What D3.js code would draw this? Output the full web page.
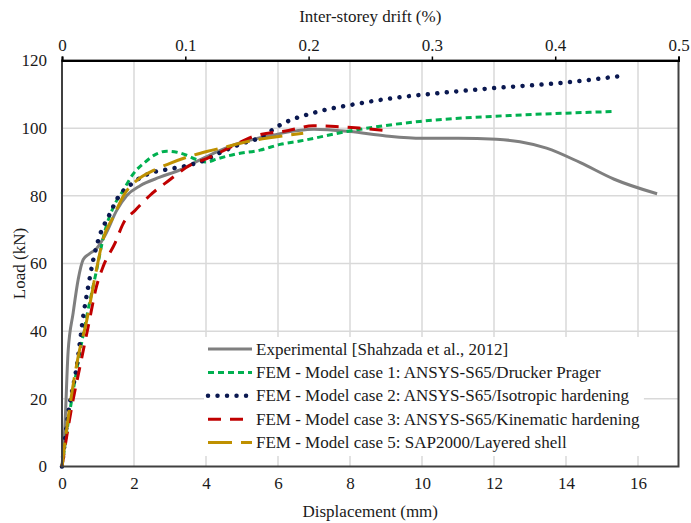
<!DOCTYPE html>
<html>
<head>
<meta charset="utf-8">
<script src="https://cdn.jsdelivr.net/npm/d3@7"></script>
<style>
	body { margin: 0; background: #fff; }
</style>
</head>
<body>
<svg id="chart" width="691" height="523"></svg>
<script>
// displacement (mm) / load (kN)
const expX = [0, 0.08, 0.17, 0.31, 0.45, 0.59, 0.75, 0.95, 1.19, 1.52, 1.8, 2.17, 2.72, 3.28, 3.83, 4.3, 4.83, 5.66, 6.5, 7.0, 8.0, 9.0, 10.0, 11.0, 12.07, 12.72, 13.46, 14.4, 15.34, 16.53];
const expY = [0, 11.8, 34, 45.4, 55.3, 61.2, 62.8, 64.3, 68.2, 75.7, 80.1, 83.0, 85.5, 87.7, 90.6, 93.0, 95.3, 97.5, 99.2, 99.7, 99.0, 97.7, 97.0, 97.0, 96.7, 96.0, 94.1, 89.8, 84.9, 80.6];

const dpX = [0, 0.2, 0.45, 0.7, 0.95, 1.19, 1.47, 1.7, 1.98, 2.3, 2.63, 2.91, 3.19, 3.46, 3.74, 4.02, 4.3, 4.85, 5.5, 6.06, 6.61, 7.91, 9.94, 11.98, 13.9, 15.27];
const dpY = [0, 15, 31, 45, 57.5, 69.5, 77.6, 81.6, 86.5, 89.9, 92.4, 93.2, 92.9, 92.0, 90.7, 90.0, 90.9, 92.4, 93.5, 95.2, 96.2, 99.0, 102.0, 103.5, 104.4, 104.9];

const isoX = [0, 0.19, 0.41, 0.59, 0.73, 0.87, 1.01, 1.33, 1.56, 1.93, 2.4, 2.91, 3.42, 3.93, 4.4, 4.96, 5.52, 6.07, 7.12, 8.14, 9.2, 10.5, 12.07, 13.9, 15.5];
const isoY = [0, 16.8, 29.6, 44.4, 53.3, 61.2, 67, 74.7, 79.6, 83.5, 86.5, 87.8, 88.8, 90.4, 92.8, 95.3, 97.3, 101, 104.9, 107.1, 108.9, 110.4, 111.9, 113.4, 115.4];

const kinX = [0, 0.13, 0.31, 0.5, 0.73, 0.96, 1.15, 1.48, 1.7, 2.05, 2.44, 2.95, 3.6, 3.93, 4.3, 4.76, 5.3, 6.29, 6.98, 7.6, 8.28, 9.02];
const kinY = [0, 8.9, 19.8, 29.6, 41.5, 53.3, 59.3, 66.2, 71.8, 75.9, 80.1, 84.4, 89.3, 90.6, 92.4, 94.8, 97.5, 99.3, 100.7, 100.5, 100.0, 99.3];

const sapX = [0, 0.19, 0.45, 0.69, 0.92, 1.15, 1.42, 1.74, 2.07, 2.54, 3.0, 3.46, 4.02, 4.57, 5.13, 5.87, 6.7];
const sapY = [0, 15.8, 32.5, 43.3, 56.2, 67.5, 73.7, 80.6, 84.5, 87.5, 89.6, 91.4, 93.1, 94.5, 96.0, 97.3, 98.5];

const seriesNames = [
	'Experimental [Shahzada et al., 2012]',
	'FEM - Model case 1: ANSYS-S65/Drucker Prager',
	'FEM - Model case 2: ANSYS-S65/Isotropic hardening',
	'FEM - Model case 3: ANSYS-S65/Kinematic hardening',
	'FEM - Model case 5: SAP2000/Layered shell'
];
const xTicks = [0, 2, 4, 6, 8, 10, 12, 14, 16];
const yTicks = [0, 20, 40, 60, 80, 100, 120];
const driftTicks = [0, 0.1, 0.2, 0.3, 0.4, 0.5];

const FONT = "'Liberation Serif', 'Times New Roman', serif";
const FS = 17;
const INK = '#1a1a1a';

const styles = [
	{ color: '#7f7f7f', dash: null, w: 3, cap: 'butt' },
	{ color: '#00b050', dash: '6 4', w: 3, cap: 'butt' },
	{ color: '#0a1850', dash: '0.01 9.5', w: 4.5, cap: 'round' },
	{ color: '#c00000', dash: '13 9', w: 3, cap: 'butt' },
	{ color: '#bf9000', dash: '24 9', w: 3, cap: 'butt' }
];

const series = [[expX, expY], [dpX, dpY], [isoX, isoY], [kinX, kinY], [sapX, sapY]]
	.map(([xs, ys], i) => ({ name: seriesNames[i], style: styles[i], pts: xs.map((v, j) => [v, ys[j]]) }));

const M = { left: 62, right: 678.5, top: 60.5, bottom: 466.5 };
const X_MAX = 17.125; // 0.5 % drift
const x = d3.scaleLinear().domain([0, X_MAX]).range([M.left, M.right]);
const xd = d3.scaleLinear().domain([0, 0.5]).range([M.left, M.right]);
const y = d3.scaleLinear().domain([0, 120]).range([M.bottom, M.top]);

const svg = d3.select('#chart');

// grid
svg.append('g')
	.selectAll('line')
	.data(xTicks.filter(t => t > 0))
	.join('line')
	.attr('x1', d => x(d)).attr('x2', d => x(d))
	.attr('y1', M.top).attr('y2', M.bottom)
	.attr('stroke', '#d9d9d9').attr('stroke-width', 1.5);
svg.append('g')
	.selectAll('line')
	.data(yTicks.filter(t => t > 0 && t < 120))
	.join('line')
	.attr('x1', M.left).attr('x2', M.right)
	.attr('y1', d => y(d)).attr('y2', d => y(d))
	.attr('stroke', '#d9d9d9').attr('stroke-width', 1.5);

// curves
const line = d3.line().x(d => x(d[0])).y(d => y(d[1])).curve(d3.curveMonotoneX);
svg.append('g')
	.selectAll('path')
	.data(series)
	.join('path')
	.attr('d', d => line(d.pts))
	.attr('fill', 'none')
	.attr('stroke', d => d.style.color)
	.attr('stroke-width', d => d.style.w)
	.attr('stroke-dasharray', d => d.style.dash)
	.attr('stroke-linecap', d => d.style.cap);

// frame
svg.append('rect')
	.attr('x', M.left).attr('y', M.top)
	.attr('width', M.right - M.left).attr('height', M.bottom - M.top)
	.attr('fill', 'none').attr('stroke', '#404040').attr('stroke-width', 2);

function styleText(sel) {
	sel.attr('font-family', FONT).attr('font-size', FS).attr('fill', INK);
}

// top (drift) axis
const gTop = svg.append('g').attr('transform', `translate(0,${M.top})`)
	.call(d3.axisTop(xd).tickValues(driftTicks).tickSize(4).tickPadding(6).tickFormat(d3.format('')));
gTop.attr('font-family', FONT);
gTop.select('.domain').attr('stroke', '#000').attr('stroke-width', 2);
gTop.selectAll('.tick line').attr('stroke', '#000').attr('stroke-width', 1.5);
gTop.selectAll('text').call(styleText);

// bottom axis
const gBottom = svg.append('g').attr('transform', `translate(0,${M.bottom})`)
	.call(d3.axisBottom(x).tickValues(xTicks).tickSize(0).tickPadding(10));
gBottom.attr('font-family', FONT);
gBottom.select('.domain').remove();
gBottom.selectAll('text').call(styleText);

// left axis
const gLeft = svg.append('g').attr('transform', `translate(${M.left},0)`)
	.call(d3.axisLeft(y).tickValues(yTicks).tickSize(0).tickPadding(15));
gLeft.attr('font-family', FONT);
gLeft.select('.domain').remove();
gLeft.selectAll('text').call(styleText);

// titles
svg.append('text').attr('x', (M.left + M.right) / 2).attr('y', 22)
	.attr('text-anchor', 'middle').call(styleText).text('Inter-storey drift (%)');
svg.append('text').attr('x', (M.left + M.right) / 2).attr('y', 517)
	.attr('text-anchor', 'middle').call(styleText).text('Displacement (mm)');
svg.append('text').attr('transform', `translate(25,${(M.top + M.bottom) / 2}) rotate(-90)`)
	.attr('text-anchor', 'middle').call(styleText).text('Load (kN)');

// legend
const LEG_X = 208;
const LEG_Y = 349;
const ROW = 23.4;
const leg = svg.append('g');
const legBg = leg.append('rect').attr('fill', '#fff');
const rows = leg.selectAll('g.row')
	.data(series)
	.join('g')
	.attr('class', 'row')
	.attr('transform', (d, i) => `translate(${LEG_X},${LEG_Y + i * ROW})`);
rows.append('line')
	.attr('x1', 0).attr('x2', 44)
	.attr('stroke', d => d.style.color)
	.attr('stroke-width', d => d.style.w)
	.attr('stroke-dasharray', d => d.style.dash)
	.attr('stroke-linecap', d => d.style.cap);
rows.append('text')
	.attr('x', 48).attr('y', 5.5)
	.call(styleText)
	.text(d => d.name);
const bb = leg.node().getBBox();
legBg.attr('x', bb.x - 4).attr('y', LEG_Y - 12)
	.attr('width', bb.width + 8).attr('height', ROW * 5 + 2);
</script>
</body>
</html>
